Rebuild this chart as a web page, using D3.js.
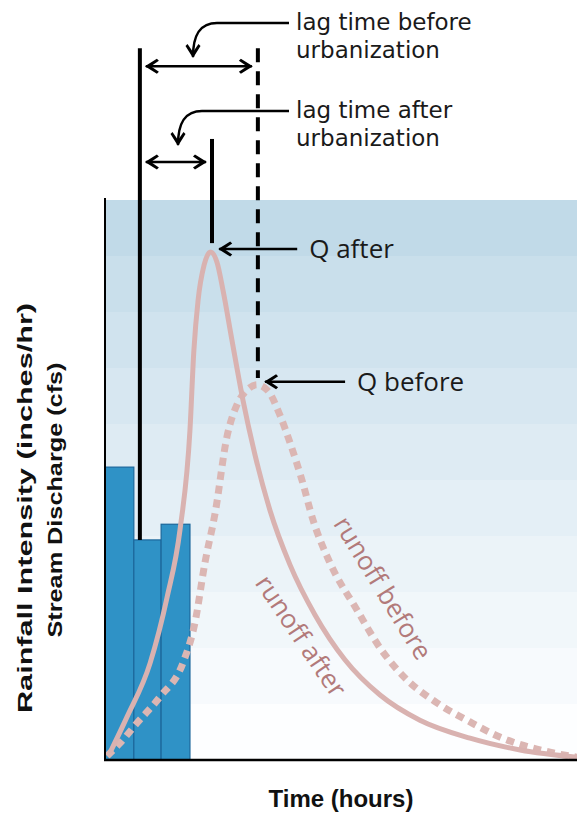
<!DOCTYPE html>
<html lang="en">
<head>
    <meta charset="UTF-8">
    <title>Hydrograph before and after urbanization</title>
    <script src="https://d3js.org/d3.v7.min.js"></script>
    <style>
        body { margin: 0; background: #fff; }
        svg { display: block; }
        .note { font-family: "Open Sans", Lato, sans-serif; font-size: 25px; fill: #1a1a1a; }
        .lag { font-family: "DejaVu Sans", sans-serif; font-size: 23px; fill: #1a1a1a; }
        .axis-title { font-family: "Liberation Sans", Arial, sans-serif; font-weight: bold; font-size: 21px; fill: #111; }
        .runoff { font-family: "Open Sans", Lato, sans-serif; font-size: 26px; fill: #b27a7a; }
    </style>
</head>
<body>
<svg width="577" height="817"></svg>
<script>
    // rainfall bars (hours, inches/hr on the shared 0-10 scale)
    const rainStart = [0.0, 1.1, 2.14];
    const rainEnd = [1.1, 2.14, 3.24];
    const rainValue = [5.23, 3.93, 4.21];

    // runoff after urbanization
    const afterT = [0.19, 0.84, 1.72, 2.37, 2.86, 3.24, 3.39, 3.55, 3.78, 4.02, 4.27, 4.50, 4.84, 5.26, 5.72, 6.29, 7.06, 8.01, 9.15, 10.49, 12.01, 13.92, 15.83, 18.0];
    const afterQ = [0.13, 0.77, 1.73, 2.91, 4.11, 5.89, 7.32, 8.21, 8.84, 9.07, 8.89, 8.39, 7.50, 6.43, 5.45, 4.46, 3.48, 2.59, 1.79, 1.16, 0.71, 0.39, 0.18, 0.05];

    // runoff before urbanization
    const beforeT = [0.08, 0.57, 1.22, 2.10, 2.97, 3.43, 3.81, 4.20, 4.65, 5.03, 5.42, 5.80, 6.22, 6.67, 7.06, 7.51, 7.93, 8.58, 9.61, 10.49, 11.52, 12.66, 13.92, 15.06, 16.97, 18.0];
    const beforeQ = [0.07, 0.30, 0.66, 1.13, 1.73, 2.45, 3.52, 4.41, 5.77, 6.34, 6.61, 6.70, 6.59, 6.16, 5.66, 5.00, 4.29, 3.52, 2.68, 2.00, 1.43, 1.02, 0.68, 0.41, 0.14, 0.05];

    // lag markers: rainfall centre, peak after, peak before
    const markerT = [1.33, 4.08, 5.83];
    const markerTop = [12.71, 11.09, 12.71];
    const markerBottom = [3.93, 9.23, 6.82];

    const svg = d3.select("svg");
    const x = d3.scaleLinear().domain([0, 18]).range([105, 577]);
    const y = d3.scaleLinear().domain([0, 10]).range([760, 200]);

    // background bands
    const bands = d3.range(10);
    const bandColor = d3.interpolateRgb("#c1dae8", "#fdfeff");
    svg.append("g").selectAll("rect")
        .data(bands)
        .enter()
        .append("rect")
        .attr("x", x(0))
        .attr("width", x(18) - x(0))
        .attr("y", d => y(10 - d))
        .attr("height", y(0) - y(1) + 0.5)
        .attr("fill", d => bandColor(Math.pow(d / 9, 0.9)));

    // rainfall bars
    svg.append("g").selectAll("rect")
        .data(rainValue)
        .enter()
        .append("rect")
        .attr("x", (d, i) => x(rainStart[i]))
        .attr("width", (d, i) => x(rainEnd[i]) - x(rainStart[i]))
        .attr("y", d => y(d))
        .attr("height", d => y(0) - y(d))
        .attr("fill", "#2f92c6")
        .attr("stroke", "#1b679b")
        .attr("stroke-width", 1.2);

    const line = d3.line()
        .x(d => x(d[0]))
        .y(d => y(d[1]))
        .curve(d3.curveMonotoneX);

    svg.append("path")
        .attr("d", line(beforeT.map((t, i) => [t, beforeQ[i]])))
        .attr("fill", "none")
        .attr("stroke", "#dbb6b3")
        .attr("stroke-width", 7)
        .attr("stroke-dasharray", "8,6");

    svg.append("path")
        .attr("d", line(afterT.map((t, i) => [t, afterQ[i]])))
        .attr("fill", "none")
        .attr("stroke", "#d9b2b0")
        .attr("stroke-width", 5);

    // axes
    svg.append("line")
        .attr("x1", x(0)).attr("x2", x(0))
        .attr("y1", y(10) - 2).attr("y2", y(0) + 1)
        .attr("stroke", "#000").attr("stroke-width", 2);
    svg.append("line")
        .attr("x1", x(0) - 1).attr("x2", x(18))
        .attr("y1", y(0)).attr("y2", y(0))
        .attr("stroke", "#000").attr("stroke-width", 2.5);

    // lag marker lines
    svg.append("g").selectAll("line")
        .data(markerT)
        .enter()
        .append("line")
        .attr("x1", d => x(d)).attr("x2", d => x(d))
        .attr("y1", (d, i) => y(markerTop[i]))
        .attr("y2", (d, i) => y(markerBottom[i]))
        .attr("stroke", "#000")
        .attr("stroke-width", 4)
        .attr("stroke-dasharray", (d, i) => i === 2 ? "14,9" : null);

    // arrow head (tip at the end of the path)
    const defs = svg.append("defs");
    defs.append("marker")
        .attr("id", "head")
        .attr("viewBox", "-15 -8 17 16")
        .attr("refX", 0).attr("refY", 0)
        .attr("markerWidth", 17).attr("markerHeight", 16)
        .attr("markerUnits", "userSpaceOnUse")
        .attr("orient", "auto-start-reverse")
        .append("path")
        .attr("d", "M1,0 L-11,-7.5 L-13,-5.5 L-5,0 L-13,5.5 L-11,7.5 Z")
        .attr("fill", "#000");

    // double arrows for the lag times
    const lagY = [12.39, 10.68];
    const lagTo = [markerT[2], markerT[1]];
    svg.append("g").selectAll("line")
        .data(lagY)
        .enter()
        .append("line")
        .attr("x1", x(markerT[0]) + 6)
        .attr("x2", (d, i) => x(lagTo[i]) - 6)
        .attr("y1", d => y(d)).attr("y2", d => y(d))
        .attr("stroke", "#000").attr("stroke-width", 2.5)
        .attr("marker-start", "url(#head)")
        .attr("marker-end", "url(#head)");

    // labels for the lag times with curved pointers
    const lagLabels = [["lag time before", "urbanization"], ["lag time after", "urbanization"]];
    const labelBase = [30, 118];
    const tipX = [193, 178];
    lagLabels.forEach((lines, i) => {
        const b = labelBase[i];
        svg.append("path")
            .attr("d", `M289,${b - 7} L${tipX[i] + 24},${b - 7} C${tipX[i] + 6},${b - 7} ${tipX[i]},${b + 6} ${tipX[i]},${b + 27}`)
            .attr("fill", "none")
            .attr("stroke", "#000")
            .attr("stroke-width", 2.5)
            .attr("marker-end", "url(#head)");
        svg.append("text").attr("class", "lag")
            .attr("x", 296).attr("y", b).text(lines[0]);
        svg.append("text").attr("class", "lag")
            .attr("x", 296).attr("y", b + 28).text(lines[1]);
    });

    // peak labels
    const peakNames = ["Q after", "Q before"];
    const peakT = [4.05, 5.80];
    const peakQ = [9.07, 6.70];
    const peakLen = [78, 80];
    peakNames.forEach((name, i) => {
        const px = x(peakT[i]) + 8, py = y(peakQ[i]) - 3;
        svg.append("line")
            .attr("x1", px + peakLen[i]).attr("x2", px)
            .attr("y1", py).attr("y2", py)
            .attr("stroke", "#000").attr("stroke-width", 2.5)
            .attr("marker-end", "url(#head)");
        svg.append("text").attr("class", "note")
            .style("font-size", "26px")
            .attr("x", px + peakLen[i] + 12).attr("y", py + 9).text(name);
    });

    // runoff labels
    svg.append("text").attr("class", "runoff")
        .attr("text-anchor", "middle")
        .attr("transform", "translate(383,588) rotate(58.5)")
        .attr("dy", "0.35em")
        .text("runoff before");
    svg.append("text").attr("class", "runoff")
        .attr("text-anchor", "middle")
        .attr("transform", "translate(301,636) rotate(56)")
        .attr("dy", "0.35em")
        .text("runoff after");

    // axis titles
    svg.append("text").attr("class", "axis-title")
        .attr("text-anchor", "middle")
        .attr("transform", "translate(32,508) rotate(-90)")
        .attr("textLength", 410)
        .attr("lengthAdjust", "spacingAndGlyphs")
        .text("Rainfall Intensity (inches/hr)");
    svg.append("text").attr("class", "axis-title")
        .attr("text-anchor", "middle")
        .attr("transform", "translate(62,500) rotate(-90)")
        .attr("textLength", 275)
        .attr("lengthAdjust", "spacingAndGlyphs")
        .text("Stream Discharge (cfs)");
    svg.append("text").attr("class", "axis-title")
        .attr("text-anchor", "middle")
        .style("font-size", "24px")
        .attr("x", 341).attr("y", 807)
        .text("Time (hours)");
</script>
</body>
</html>
